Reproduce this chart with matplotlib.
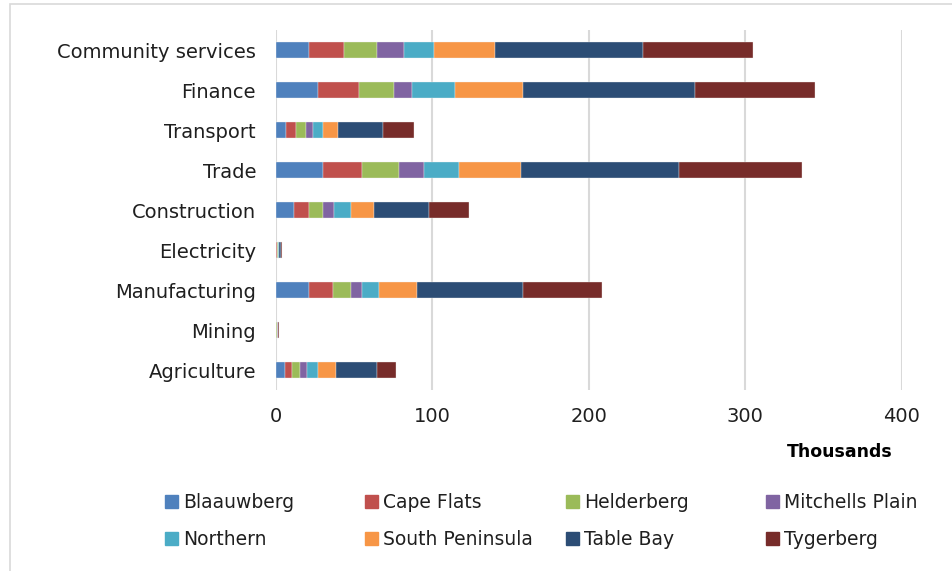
import matplotlib.pyplot as plt
import matplotlib.patches as mpatches
import numpy as np

plt.rcParams["font.family"] = ["DejaVu Sans"]

sectors = ["Community services", "Finance", "Transport", "Trade", "Construction",
           "Electricity", "Manufacturing", "Mining", "Agriculture"]
districts = ["Blaauwberg", "Cape Flats", "Helderberg", "Mitchells Plain",
             "Northern", "South Peninsula", "Table Bay", "Tygerberg"]
colors = ["#4F81BD", "#C0504D", "#9BBB59", "#8064A2",
          "#4BACC6", "#F79646", "#2C4D75", "#772C2A"]

# employment in thousands, one list per district in the order of `sectors`
blaauwberg      = [21.2, 27.0, 6.6, 30.4, 12.1, 0.4, 21.2, 0.2, 5.9]
cape_flats      = [22.8, 26.0, 6.8, 25.1, 9.0, 0.5, 15.2, 0.3, 4.9]
helderberg      = [20.9, 22.7, 5.9, 23.6, 9.5, 0.4, 11.9, 0.2, 5.1]
mitchells_plain = [17.0, 11.7, 4.5, 15.5, 6.9, 0.3, 7.2, 0.6, 4.1]
northern        = [19.6, 27.5, 6.4, 22.4, 11.0, 0.4, 10.4, 0.2, 7.0]
south_peninsula = [38.7, 43.2, 10.0, 39.8, 14.7, 0.5, 24.5, 0.3, 11.7]
table_bay       = [94.6, 109.5, 28.3, 100.6, 35.1, 1.1, 67.9, 0.1, 25.9]
tygerberg       = [70.2, 77.0, 20.0, 78.8, 25.3, 0.6, 50.4, 0.2, 12.6]

series = [blaauwberg, cape_flats, helderberg, mitchells_plain,
          northern, south_peninsula, table_bay, tygerberg]

fig = plt.figure(figsize=(9.52, 5.71), dpi=100)
ax = fig.add_axes([275.5 / 952, 1 - 390 / 571, (902 - 275.5) / 952, 360 / 571])

# first sector at the top
y = np.arange(len(sectors))[::-1]
left = np.zeros(len(sectors))
for name, vals, c in zip(districts, series, colors):
    ax.barh(y, vals, left=left, height=0.4, color=c, label=name,
            edgecolor="#F2F2F2", linewidth=0.25, zorder=3)
    left += np.array(vals)

ax.set_xlim(0, 400)
ax.set_ylim(-0.5, len(sectors) - 0.5)
ax.set_xticks([0, 100, 200, 300, 400])
ax.set_yticks(y)
ax.set_yticklabels(sectors)
ax.grid(axis="x", color="#D9D9D9", linewidth=1.5, zorder=0)
for s in ax.spines.values():
    s.set_visible(False)
ax.tick_params(axis="both", length=0, labelsize=14, colors="#1F1F1F")
ax.tick_params(axis="y", pad=14)
ax.tick_params(axis="x", pad=12)

fig.text(840 / 952, 1 - 452 / 571, "Thousands", ha="center", va="center",
         fontsize=12.5, fontweight="bold", color="#000000")

# legend laid out as four equal-width columns
handles = [mpatches.Patch(color=c) for c in colors]
col_x = [165, 365, 566, 766]
for i, x0 in enumerate(col_x):
    idx = [i, i + 4]
    fig.legend([handles[j] for j in idx], [districts[j] for j in idx],
               loc="upper left", bbox_to_anchor=(x0 / 952, 1 - 493 / 571),
               frameon=False, fontsize=13.5, handlelength=0.7, handleheight=0.7,
               handletextpad=0.25, labelspacing=0.95, borderpad=0, borderaxespad=0,
               labelcolor="#1F1F1F")

# light frame around the chart area
fig.patches.append(mpatches.Rectangle((10 / 952, -0.1), 1.2, 1 - 4 / 571 + 0.1,
                                      transform=fig.transFigure, fill=False,
                                      edgecolor="#D9D9D9", linewidth=1.2))

fig.savefig("out.png", dpi=100)
